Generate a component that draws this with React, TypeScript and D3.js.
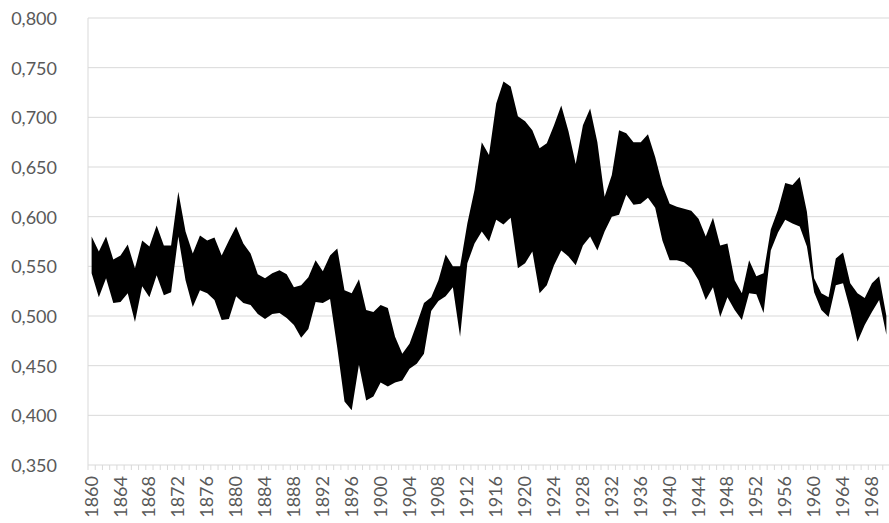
import React from "react";
import * as d3 from "d3";

const years: number[] = d3.range(1860, 1971);

const upper: number[] = [
  0.580, 0.565, 0.580, 0.557, 0.561, 0.572, 0.548, 0.576, 0.570, 0.591,
  0.571, 0.571, 0.625, 0.585, 0.563, 0.581, 0.576, 0.579, 0.561, 0.576,
  0.590, 0.573, 0.563, 0.542, 0.538, 0.543, 0.546, 0.542, 0.529, 0.531,
  0.539, 0.556, 0.545, 0.561, 0.568, 0.526, 0.523, 0.537, 0.506, 0.504,
  0.511, 0.508, 0.479, 0.462, 0.472, 0.492, 0.513, 0.519, 0.536, 0.562,
  0.550, 0.550, 0.593, 0.627, 0.675, 0.662, 0.714, 0.736, 0.731, 0.701,
  0.696, 0.687, 0.669, 0.674, 0.692, 0.712, 0.686, 0.653, 0.692, 0.709,
  0.675, 0.620, 0.642, 0.687, 0.684, 0.675, 0.675, 0.683, 0.660, 0.632,
  0.613, 0.610, 0.608, 0.606, 0.598, 0.580, 0.599, 0.571, 0.573, 0.536,
  0.523, 0.556, 0.540, 0.543, 0.587, 0.607, 0.634, 0.632, 0.640, 0.605,
  0.538, 0.523, 0.519, 0.558, 0.564, 0.533, 0.523, 0.518, 0.533, 0.540,
  0.500,
];

const lower: number[] = [
  0.543, 0.519, 0.538, 0.513, 0.514, 0.523, 0.494, 0.530, 0.519, 0.541,
  0.521, 0.524, 0.580, 0.536, 0.509, 0.526, 0.523, 0.516, 0.496, 0.497,
  0.520, 0.513, 0.511, 0.502, 0.497, 0.502, 0.503, 0.498, 0.491, 0.478,
  0.487, 0.514, 0.513, 0.517, 0.468, 0.414, 0.405, 0.451, 0.415, 0.419,
  0.433, 0.429, 0.433, 0.435, 0.447, 0.452, 0.462, 0.505, 0.515, 0.520,
  0.529, 0.479, 0.553, 0.573, 0.585, 0.575, 0.597, 0.592, 0.599, 0.548,
  0.553, 0.565, 0.523, 0.531, 0.551, 0.566, 0.560, 0.551, 0.571, 0.580,
  0.566, 0.585, 0.600, 0.602, 0.622, 0.612, 0.613, 0.619, 0.609, 0.576,
  0.556, 0.556, 0.554, 0.548, 0.536, 0.516, 0.529, 0.499, 0.519, 0.506,
  0.496, 0.523, 0.522, 0.503, 0.566, 0.584, 0.597, 0.593, 0.590, 0.570,
  0.524, 0.506, 0.499, 0.531, 0.533, 0.506, 0.474, 0.491, 0.504, 0.516,
  0.481,
];

const yTicks: number[] = [0.35, 0.4, 0.45, 0.5, 0.55, 0.6, 0.65, 0.7, 0.75, 0.8];
const xLabelYears: number[] = d3.range(1860, 1971, 4);

export default function App() {
  const W = 889;
  const H = 523;
  const left = 88;
  const right = 890;
  const top = 18;
  const bottom = 465;

  const x = d3.scaleBand<number>().domain(years).range([left, right]).padding(0);
  const bw = x.bandwidth();
  const cx = (yr: number) => (x(yr) as number) + bw / 2;
  const y = d3.scaleLinear().domain([0.35, 0.8]).range([bottom, top]);

  const data = years.map((yr, i) => ({ yr, lo: lower[i], hi: upper[i] }));
  const area = d3
    .area<{ yr: number; lo: number; hi: number }>()
    .x((d) => cx(d.yr))
    .y0((d) => y(d.lo))
    .y1((d) => y(d.hi));

  const fmt = (v: number) => d3.format(".3f")(v).replace(".", ",");
  const font = "Lato, 'Open Sans', sans-serif";
  const textColor = "#595959";

  return (
    <svg
      width={W}
      height={H}
      style={{ position: "absolute", left: 0, top: 0, background: "#fff" }}
    >
      {yTicks.map((t) => (
        <line
          key={"g" + t}
          x1={left}
          x2={right}
          y1={y(t)}
          y2={y(t)}
          stroke="#d9d9d9"
          strokeWidth={1}
        />
      ))}
      <line x1={left} x2={left} y1={top} y2={bottom} stroke="#d9d9d9" strokeWidth={1} />
      {d3.range(years.length + 1).map((k) => (
        <line
          key={"t" + k}
          x1={left + k * bw}
          x2={left + k * bw}
          y1={bottom}
          y2={bottom + 5}
          stroke="#d9d9d9"
          strokeWidth={1}
        />
      ))}
      <path d={area(data) || ""} fill="#000" />
      {yTicks.map((t) => (
        <text
          key={"yl" + t}
          x={57}
          y={y(t)}
          textAnchor="end"
          dominantBaseline="central"
          fontFamily={font}
          fontSize={18}
          fill={textColor}
        >
          {fmt(t)}
        </text>
      ))}
      {xLabelYears.map((yr) => (
        <text
          key={"xl" + yr}
          transform={`translate(${cx(yr) - 1},${bottom + 11}) rotate(-90)`}
          textAnchor="end"
          dominantBaseline="central"
          fontFamily={font}
          fontSize={18}
          fill={textColor}
        >
          {yr}
        </text>
      ))}
    </svg>
  );
}
